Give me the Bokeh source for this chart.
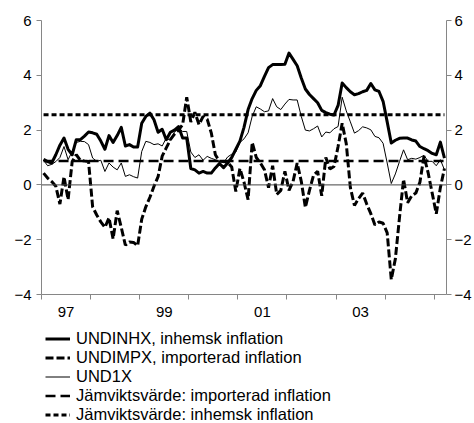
from bokeh.plotting import figure
from bokeh.layouts import column
from bokeh.models import Range1d, LinearAxis, FixedTicker, Legend, LegendItem, Span
from bokeh.embed import file_html
from bokeh.resources import INLINE

# ---- data (monthly, Jan 1997 - Mar 2005) ----
undinhx = [0.93, 0.85, 0.80, 1.10, 1.45, 1.71, 1.30, 1.10, 1.65, 1.65,
           1.78, 1.93, 1.90, 1.85, 1.60, 1.30, 1.80, 1.55, 1.80, 2.10,
           1.42, 1.47, 1.38, 1.38, 2.25, 2.50, 2.62, 2.38, 1.92, 2.03,
           1.65, 1.92, 2.00, 2.13, 1.71, 1.71, 0.60, 0.55, 0.43, 0.49,
           0.43, 0.43, 0.62, 0.78, 0.63, 0.80, 1.00, 1.30, 1.60, 2.10,
           2.75, 3.15, 3.45, 3.62, 3.96, 4.28, 4.39, 4.39, 4.39, 4.40,
           4.81, 4.58, 4.35, 3.90, 3.50, 3.30, 3.15, 3.00, 2.72, 2.64,
           2.58, 2.55, 2.90, 3.72, 3.55, 3.40, 3.29, 3.33, 3.40, 3.45,
           3.70, 3.47, 3.41, 3.05, 2.30, 1.53, 1.63, 1.70, 1.71, 1.71,
           1.64, 1.60, 1.40, 1.32, 1.25, 1.15, 1.10, 1.56, 0.98]

undimpx = [0.43, 0.25, 0.12, -0.05, -0.70, 0.30, -0.54, 0.85, 1.10, 0.90,
           0.87, 0.85, -0.80, -1.10, -1.35, -1.55, -1.20, -1.97, -0.94, -1.55,
           -2.20, -2.08, -2.10, -2.22, -1.25, -0.80, -0.45, -0.05, 0.30, 1.05,
           1.35, 1.65, 1.85, 2.00, 2.20, 3.20, 2.30, 2.65, 2.20, 2.50,
           2.40, 1.90, 1.10, 0.86, 0.86, 0.82, 0.65, -0.24, 0.60, 0.10,
           -0.54, 1.55, 1.00, 0.80, 0.55, -0.10, 0.70, -0.35, -0.20, 0.50,
           -0.20, 0.13, 0.80, 0.13, -0.82, -0.20, 0.35, 0.50, -0.40, 1.00,
           0.58, 0.67, 1.40, 2.25, 1.50, -0.10, -0.75, -0.50, -0.30, -0.70,
           -1.05, -1.46, -1.35, -1.40, -1.75, -3.45, -2.70, -1.20, 0.20, -0.65,
           -0.40, -0.30, 0.10, 1.05, 0.45, -0.30, -1.05, -0.10, 0.60]

und1x = [0.90, 0.70, 0.75, 0.85, 1.00, 1.40, 0.92, 1.22, 1.55, 1.59,
         1.58, 1.47, 0.98, 0.86, 0.90, 0.49, 0.80, 0.65, 0.55, 0.80,
         0.31, 0.37, 0.30, 0.25, 1.22, 1.59, 1.55, 1.47, 1.50, 1.42,
         1.71, 1.62, 1.92, 2.07, 1.95, 1.95, 1.20, 1.00, 1.10, 0.90,
         1.04, 0.97, 0.92, 0.86, 0.81, 1.02, 1.12, 1.20, 1.55, 1.68,
         1.90, 2.50, 2.85, 2.77, 2.67, 2.70, 3.15, 2.85, 2.75, 2.95,
         3.12, 3.10, 3.10, 2.50, 2.00, 1.97, 2.05, 2.15, 1.75, 1.93,
         1.90, 2.05, 2.13, 3.20, 2.70, 2.30, 1.89, 1.98, 2.12, 2.08,
         2.01, 1.77, 1.72, 1.52, 0.80, 0.05, 0.40, 0.85, 1.28, 0.92,
         0.97, 0.94, 1.00, 1.08, 0.86, 0.86, 0.70, 0.92, 0.55]

jamvikt_import = 0.87
jamvikt_inhemsk = 2.56

start_year = 1997
n_months = len(undinhx)
months = [start_year + (i + 0.5) / 12 for i in range(n_months)]

year_ticks = [1997, 1998, 1999, 2000, 2001, 2002, 2003, 2004, 2005]
label_years = [1997.5, 1999.5, 2001.5, 2003.5]
year_labels = ["97", "99", "01", "03"]
y_ticks = [-4, -2, 0, 2, 4, 6]

legend_labels = ["UNDINHX, inhemsk inflation",
                 "UNDIMPX, importerad inflation",
                 "UND1X",
                 "Jämviktsvärde: importerad inflation",
                 "Jämviktsvärde: inhemsk inflation"]

FONT = "Liberation Sans"
AXIS_GRAY = "#868686"

# line styles per legend entry: (width, dash)
styles = [(3, "solid"), (3, "8 3"), (1, "solid"), (2.5, "10 5"), (3, "5 3")]

p = figure(width=474, height=322, output_backend="svg", toolbar_location=None,
           x_range=Range1d(1997.0, 2005.25), y_range=Range1d(-4, 6),
           x_axis_location=None, y_axis_location=None,
           min_border_left=41, min_border_right=28, min_border_top=20,
           min_border_bottom=28)
p.grid.visible = False
p.outline_line_color = None
p.background_fill_color = "white"
p.border_fill_color = "white"

def style_axis(ax, size="15px"):
    ax.axis_line_color = AXIS_GRAY
    ax.axis_line_width = 1
    ax.major_tick_line_color = AXIS_GRAY
    ax.minor_tick_line_color = AXIS_GRAY
    ax.major_label_text_font = FONT
    ax.major_label_text_font_size = size
    ax.major_label_text_color = "#000000"

left = LinearAxis(ticker=FixedTicker(ticks=y_ticks, minor_ticks=[]))
style_axis(left)
left.major_tick_out = 5
left.major_tick_in = 0
left.major_label_standoff = 5
p.add_layout(left, "left")

right = LinearAxis(ticker=FixedTicker(ticks=y_ticks, minor_ticks=[]))
style_axis(right)
right.major_tick_out = 5
right.major_tick_in = 0
right.major_label_standoff = 3
p.add_layout(right, "right")

bottom = LinearAxis(ticker=FixedTicker(ticks=label_years, minor_ticks=year_ticks))
style_axis(bottom)
bottom.major_tick_out = 0
bottom.major_tick_in = 0
bottom.minor_tick_out = 5
bottom.minor_tick_in = 0
bottom.minor_tick_line_width = 1
bottom.major_label_standoff = 7
bottom.major_label_overrides = {y: l for y, l in zip(label_years, year_labels)}
p.add_layout(bottom, "below")

p.add_layout(Span(location=0, dimension="width", line_color="#444444", line_width=1))

r_imp = p.line(months, undimpx, line_color="black", line_width=styles[1][0],
               line_dash=styles[1][1])
r_1x = p.line(months, und1x, line_color="black", line_width=styles[2][0])
r_inh = p.line(months, undinhx, line_color="black", line_width=styles[0][0],
               line_join="round")
r_eqi = p.line(months, [jamvikt_import] * n_months, line_color="black",
               line_width=styles[3][0], line_dash=styles[3][1])
r_eqh = p.line(months, [jamvikt_inhemsk] * n_months, line_color="black",
               line_width=styles[4][0], line_dash=styles[4][1])

# ---- legend panel below the chart (frame aligned with the chart's frame) ----
p2 = figure(width=474, height=101, output_backend="svg", toolbar_location=None,
            x_range=Range1d(0, 1), y_range=Range1d(0, 1),
            x_axis_location=None, y_axis_location=None,
            min_border_left=0, min_border_right=0, min_border_top=0,
            min_border_bottom=0)
p2.grid.visible = False
p2.outline_line_color = None
p2.border_fill_color = "white"
p2.background_fill_color = "white"

items = []
for lab, (w, d) in zip(legend_labels, styles):
    # proxy renderer lying outside the visible range; only its style is used
    r = p2.line([5, 6], [5, 5], line_color="black", line_width=w, line_dash=d)
    items.append(LegendItem(label=lab, renderers=[r]))

legend = Legend(items=items, location=(4, -1), orientation="vertical",
                label_text_font=FONT, label_text_font_size="16.5px",
                label_text_color="#000000",
                glyph_width=25, glyph_height=19, label_height=19,
                label_standoff=6, spacing=0, padding=0, margin=0,
                border_line_color=None, background_fill_alpha=0)
p2.add_layout(legend, "center")

layout = column(p, p2, spacing=0)
open("out.html", "w").write(file_html(layout, INLINE))
